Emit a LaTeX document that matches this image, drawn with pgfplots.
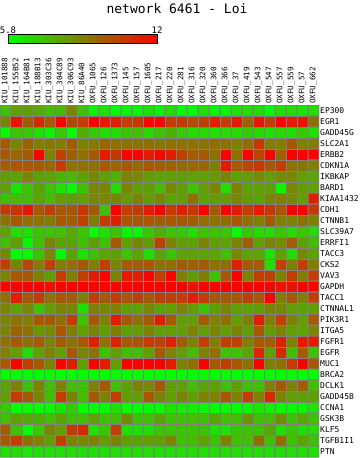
\documentclass[border=0pt]{standalone}
\usepackage{fontspec}
\setmainfont{DejaVu Sans Mono}
\usepackage{pgfplots}
\pgfplotsset{compat=1.18}
\begin{document}
\begin{tikzpicture}
\useasboundingbox (0,0) rectangle (361pt,458pt);
\begin{axis}[
  at={(0pt,1pt)}, anchor=south west,
  scale only axis, width=319pt, height=352pt,
  xmin=-0.5, xmax=28.5, ymin=-0.5, ymax=31.5, y dir=reverse,
  enlargelimits=false,
  axis line style={draw=none},
  tick style={draw=none},
  xtick={0,...,28},
  xticklabels={KIU\_101888,KIU\_155B52,KIU\_164B81,KIU\_188B13,KIU\_303C36,KIU\_304C89,KIU\_306C93,KIU\_86A40,OXFU\_1065,OXFU\_126,OXFU\_1373,OXFU\_145,OXFU\_157,OXFU\_1605,OXFU\_217,OXFU\_220,OXFU\_281,OXFU\_316,OXFU\_320,OXFU\_360,OXFU\_366,OXFU\_37,OXFU\_419,OXFU\_543,OXFU\_547,OXFU\_557,OXFU\_559,OXFU\_57,OXFU\_662},
  xticklabel pos=upper,
  xticklabel style={rotate=90, anchor=west, font=\fontsize{7.6}{8}\selectfont, inner sep=1pt},
  ytick={0,...,31},
  yticklabels={EP300,EGR1,GADD45G,SLC2A1,ERBB2,CDKN1A,IKBKAP,BARD1,KIAA1432,CDH1,CTNNB1,SLC39A7,ERRFI1,TACC3,CKS2,VAV3,GAPDH,TACC1,CTNNAL1,PIK3R1,ITGA5,FGFR1,EGFR,MUC1,BRCA2,DCLK1,GADD45B,CCNA1,GSK3B,KLF5,TGFB1I1,PTN},
  yticklabel pos=upper,
  yticklabel style={anchor=west, font=\fontsize{8}{9}\selectfont, inner sep=1pt},
  colormap={rg}{rgb255=(0,255,0) rgb255=(255,0,0)},
  point meta min=5.8, point meta max=12,
  colorbar horizontal,
  colorbar style={
    at={(0.0251,1.1733)}, anchor=south west,
    scale only axis, width=149pt, height=9pt,
    xtick={5.8,12}, xticklabels={5.8,12},
    xticklabel pos=upper,
    xtick style={draw=none},
    xticklabel style={font=\fontsize{9}{10}\selectfont, inner sep=1pt},
    axis line style={black, line width=1pt},
  },
]
\addplot[matrix plot*, mesh/cols=29, point meta=explicit, draw=gray, line width=1pt] coordinates {
(0,0)[7.3] (1,0)[8.1] (2,0)[8.1] (3,0)[7.9] (4,0)[7.3] (5,0)[7.5] (6,0)[8.8] (7,0)[7.3] (8,0)[6.0] (9,0)[6.4] (10,0)[5.9] (11,0)[6.0] (12,0)[6.0] (13,0)[6.5] (14,0)[6.0] (15,0)[6.6] (16,0)[5.9] (17,0)[5.8] (18,0)[6.6] (19,0)[6.0] (20,0)[6.0] (21,0)[6.5] (22,0)[6.5] (23,0)[6.6] (24,0)[5.8] (25,0)[6.5] (26,0)[6.6] (27,0)[6.4] (28,0)[6.6]

(0,1)[8.8] (1,1)[11.5] (2,1)[9.8] (3,1)[11.0] (4,1)[9.8] (5,1)[12.0] (6,1)[10.3] (7,1)[10.5] (8,1)[12.0] (9,1)[11.3] (10,1)[11.2] (11,1)[10.5] (12,1)[10.6] (13,1)[11.9] (14,1)[11.9] (15,1)[10.5] (16,1)[10.6] (17,1)[10.1] (18,1)[10.4] (19,1)[11.2] (20,1)[10.5] (21,1)[11.3] (22,1)[9.6] (23,1)[11.4] (24,1)[10.4] (25,1)[12.0] (26,1)[11.3] (27,1)[11.5] (28,1)[9.3]

(0,2)[5.9] (1,2)[7.2] (2,2)[7.1] (3,2)[6.6] (4,2)[6.0] (5,2)[7.1] (6,2)[5.8] (7,2)[7.8] (8,2)[7.0] (9,2)[6.6] (10,2)[6.6] (11,2)[7.2] (12,2)[7.3] (13,2)[6.7] (14,2)[7.2] (15,2)[7.7] (16,2)[7.0] (17,2)[6.6] (18,2)[6.6] (19,2)[6.5] (20,2)[6.6] (21,2)[6.6] (22,2)[7.0] (23,2)[6.7] (24,2)[6.5] (25,2)[6.7] (26,2)[6.6] (27,2)[7.1] (28,2)[6.5]

(0,3)[9.8] (1,3)[8.8] (2,3)[9.6] (3,3)[8.9] (4,3)[9.0] (5,3)[8.9] (6,3)[9.7] (7,3)[8.8] (8,3)[9.0] (9,3)[9.5] (10,3)[9.2] (11,3)[9.3] (12,3)[9.2] (13,3)[9.3] (14,3)[9.0] (15,3)[9.2] (16,3)[9.2] (17,3)[9.2] (18,3)[9.1] (19,3)[9.3] (20,3)[9.2] (21,3)[8.9] (22,3)[9.3] (23,3)[10.6] (24,3)[8.9] (25,3)[8.9] (26,3)[9.8] (27,3)[8.9] (28,3)[8.9]

(0,4)[9.8] (1,4)[9.5] (2,4)[9.8] (3,4)[12.0] (4,4)[8.8] (5,4)[10.4] (6,4)[9.7] (7,4)[9.2] (8,4)[9.8] (9,4)[11.3] (10,4)[10.6] (11,4)[12.0] (12,4)[12.0] (13,4)[11.3] (14,4)[11.9] (15,4)[11.2] (16,4)[10.4] (17,4)[9.7] (18,4)[9.8] (19,4)[9.2] (20,4)[12.0] (21,4)[9.2] (22,4)[12.0] (23,4)[10.3] (24,4)[12.0] (25,4)[9.6] (26,4)[12.0] (27,4)[12.0] (28,4)[12.0]

(0,5)[9.8] (1,5)[9.9] (2,5)[9.8] (3,5)[9.8] (4,5)[9.5] (5,5)[10.5] (6,5)[9.2] (7,5)[9.2] (8,5)[9.3] (9,5)[9.8] (10,5)[9.5] (11,5)[9.8] (12,5)[9.5] (13,5)[9.8] (14,5)[9.7] (15,5)[9.6] (16,5)[9.5] (17,5)[9.5] (18,5)[9.5] (19,5)[8.9] (20,5)[11.3] (21,5)[9.8] (22,5)[10.3] (23,5)[10.6] (24,5)[9.8] (25,5)[10.4] (26,5)[9.2] (27,5)[9.1] (28,5)[8.9]

(0,6)[8.2] (1,6)[8.0] (2,6)[8.8] (3,6)[8.1] (4,6)[8.0] (5,6)[7.6] (6,6)[7.5] (7,6)[8.1] (8,6)[8.7] (9,6)[8.1] (10,6)[7.6] (11,6)[8.8] (12,6)[8.7] (13,6)[8.2] (14,6)[8.0] (15,6)[8.1] (16,6)[8.1] (17,6)[8.0] (18,6)[8.0] (19,6)[8.2] (20,6)[8.7] (21,6)[8.1] (22,6)[8.2] (23,6)[8.6] (24,6)[8.1] (25,6)[8.6] (26,6)[8.7] (27,6)[8.1] (28,6)[8.0]

(0,7)[8.1] (1,7)[6.4] (2,7)[7.2] (3,7)[8.0] (4,7)[7.2] (5,7)[6.5] (6,7)[5.9] (7,7)[7.3] (8,7)[8.7] (9,7)[8.8] (10,7)[6.6] (11,7)[8.8] (12,7)[8.1] (13,7)[8.2] (14,7)[7.4] (15,7)[8.6] (16,7)[8.1] (17,7)[7.2] (18,7)[8.1] (19,7)[8.8] (20,7)[6.6] (21,7)[8.8] (22,7)[8.0] (23,7)[8.1] (24,7)[8.1] (25,7)[6.0] (26,7)[8.7] (27,7)[8.2] (28,7)[8.0]

(0,8)[7.3] (1,8)[7.4] (2,8)[7.3] (3,8)[8.0] (4,8)[7.4] (5,8)[8.1] (6,8)[8.2] (7,8)[8.1] (8,8)[8.7] (9,8)[8.7] (10,8)[8.8] (11,8)[8.2] (12,8)[8.8] (13,8)[8.2] (14,8)[8.7] (15,8)[8.0] (16,8)[8.1] (17,8)[9.2] (18,8)[8.0] (19,8)[8.2] (20,8)[8.1] (21,8)[8.7] (22,8)[8.2] (23,8)[8.0] (24,8)[8.7] (25,8)[8.8] (26,8)[8.7] (27,8)[8.1] (28,8)[11.2]

(0,9)[10.6] (1,9)[10.7] (2,9)[11.4] (3,9)[9.8] (4,9)[10.5] (5,9)[9.8] (6,9)[9.9] (7,9)[10.6] (8,9)[9.8] (9,9)[7.3] (10,9)[12.0] (11,9)[10.5] (12,9)[10.6] (13,9)[11.3] (14,9)[12.0] (15,9)[10.5] (16,9)[11.2] (17,9)[10.6] (18,9)[12.0] (19,9)[9.8] (20,9)[12.0] (21,9)[11.3] (22,9)[10.5] (23,9)[11.3] (24,9)[10.6] (25,9)[9.9] (26,9)[12.0] (27,9)[12.0] (28,9)[10.6]

(0,10)[9.2] (1,10)[9.8] (2,10)[9.3] (3,10)[9.2] (4,10)[8.9] (5,10)[9.8] (6,10)[9.7] (7,10)[10.4] (8,10)[8.9] (9,10)[10.5] (10,10)[11.2] (11,10)[9.9] (12,10)[9.8] (13,10)[9.9] (14,10)[9.7] (15,10)[9.8] (16,10)[9.8] (17,10)[9.7] (18,10)[9.3] (19,10)[9.2] (20,10)[9.3] (21,10)[9.8] (22,10)[9.2] (23,10)[8.9] (24,10)[9.8] (25,10)[8.9] (26,10)[8.8] (27,10)[9.2] (28,10)[8.9]

(0,11)[8.0] (1,11)[6.6] (2,11)[6.5] (3,11)[7.2] (4,11)[7.2] (5,11)[7.3] (6,11)[7.9] (7,11)[7.2] (8,11)[5.9] (9,11)[6.5] (10,11)[7.2] (11,11)[6.0] (12,11)[6.0] (13,11)[7.2] (14,11)[7.8] (15,11)[7.2] (16,11)[7.1] (17,11)[6.6] (18,11)[7.2] (19,11)[7.2] (20,11)[7.1] (21,11)[5.9] (22,11)[7.1] (23,11)[6.7] (24,11)[6.6] (25,11)[7.2] (26,11)[6.7] (27,11)[7.2] (28,11)[6.6]

(0,12)[7.3] (1,12)[8.1] (2,12)[6.0] (3,12)[7.3] (4,12)[8.8] (5,12)[8.1] (6,12)[8.0] (7,12)[7.3] (8,12)[8.1] (9,12)[7.3] (10,12)[9.8] (11,12)[8.1] (12,12)[8.7] (13,12)[8.2] (14,12)[10.4] (15,12)[8.8] (16,12)[8.1] (17,12)[8.0] (18,12)[8.8] (19,12)[8.1] (20,12)[8.0] (21,12)[8.8] (22,12)[9.7] (23,12)[8.1] (24,12)[8.8] (25,12)[8.6] (26,12)[9.7] (27,12)[8.1] (28,12)[7.4]

(0,13)[8.7] (1,13)[5.9] (2,13)[5.9] (3,13)[7.3] (4,13)[8.7] (5,13)[6.0] (6,13)[8.0] (7,13)[6.5] (8,13)[7.3] (9,13)[8.0] (10,13)[8.1] (11,13)[7.2] (12,13)[8.0] (13,13)[6.6] (14,13)[8.0] (15,13)[7.2] (16,13)[8.0] (17,13)[8.1] (18,13)[8.0] (19,13)[8.0] (20,13)[7.3] (21,13)[8.7] (22,13)[8.0] (23,13)[8.0] (24,13)[6.5] (25,13)[8.1] (26,13)[6.6] (27,13)[8.7] (28,13)[8.0]

(0,14)[10.5] (1,14)[8.8] (2,14)[10.3] (3,14)[8.9] (4,14)[10.4] (5,14)[8.9] (6,14)[9.2] (7,14)[9.8] (8,14)[8.9] (9,14)[10.5] (10,14)[8.8] (11,14)[9.8] (12,14)[9.7] (13,14)[9.8] (14,14)[9.2] (15,14)[9.3] (16,14)[9.8] (17,14)[9.7] (18,14)[9.8] (19,14)[9.2] (20,14)[9.3] (21,14)[11.2] (22,14)[9.8] (23,14)[9.7] (24,14)[6.6] (25,14)[10.4] (26,14)[8.9] (27,14)[10.5] (28,14)[8.9]

(0,15)[8.8] (1,15)[9.8] (2,15)[9.8] (3,15)[8.9] (4,15)[8.1] (5,15)[10.4] (6,15)[8.9] (7,15)[10.5] (8,15)[11.3] (9,15)[12.0] (10,15)[8.8] (11,15)[11.3] (12,15)[11.2] (13,15)[11.9] (14,15)[10.5] (15,15)[11.9] (16,15)[8.9] (17,15)[8.2] (18,15)[8.9] (19,15)[7.3] (20,15)[9.8] (21,15)[12.0] (22,15)[8.8] (23,15)[10.5] (24,15)[10.4] (25,15)[8.8] (26,15)[10.5] (27,15)[8.9] (28,15)[10.5]

(0,16)[12.0] (1,16)[12.0] (2,16)[12.0] (3,16)[12.0] (4,16)[11.6] (5,16)[12.0] (6,16)[12.0] (7,16)[12.0] (8,16)[12.0] (9,16)[12.0] (10,16)[12.0] (11,16)[12.0] (12,16)[12.0] (13,16)[12.0] (14,16)[12.0] (15,16)[12.0] (16,16)[12.0] (17,16)[11.5] (18,16)[12.0] (19,16)[12.0] (20,16)[12.0] (21,16)[12.0] (22,16)[12.0] (23,16)[12.0] (24,16)[12.0] (25,16)[11.5] (26,16)[11.6] (27,16)[12.0] (28,16)[12.0]

(0,17)[9.2] (1,17)[11.2] (2,17)[9.8] (3,17)[10.5] (4,17)[9.2] (5,17)[9.8] (6,17)[9.7] (7,17)[8.9] (8,17)[10.5] (9,17)[9.8] (10,17)[10.5] (11,17)[9.9] (12,17)[10.4] (13,17)[9.8] (14,17)[10.5] (15,17)[10.4] (16,17)[10.5] (17,17)[11.2] (18,17)[10.5] (19,17)[9.8] (20,17)[9.8] (21,17)[9.8] (22,17)[10.4] (23,17)[9.8] (24,17)[12.0] (25,17)[8.9] (26,17)[9.8] (27,17)[8.9] (28,17)[10.5]

(0,18)[8.8] (1,18)[8.0] (2,18)[8.7] (3,18)[7.3] (4,18)[8.1] (5,18)[8.8] (6,18)[8.7] (7,18)[6.6] (8,18)[8.8] (9,18)[8.7] (10,18)[8.8] (11,18)[8.1] (12,18)[8.0] (13,18)[8.7] (14,18)[8.0] (15,18)[8.1] (16,18)[8.8] (17,18)[8.1] (18,18)[7.3] (19,18)[8.1] (20,18)[8.7] (21,18)[8.1] (22,18)[8.0] (23,18)[8.2] (24,18)[8.8] (25,18)[8.7] (26,18)[8.1] (27,18)[8.0] (28,18)[8.1]

(0,19)[8.8] (1,19)[9.2] (2,19)[8.9] (3,19)[9.8] (4,19)[9.8] (5,19)[9.3] (6,19)[10.5] (7,19)[7.3] (8,19)[9.8] (9,19)[8.8] (10,19)[11.3] (11,19)[9.8] (12,19)[9.2] (13,19)[9.8] (14,19)[11.3] (15,19)[9.8] (16,19)[8.1] (17,19)[8.1] (18,19)[9.8] (19,19)[8.8] (20,19)[9.2] (21,19)[8.1] (22,19)[8.8] (23,19)[11.2] (24,19)[8.9] (25,19)[10.4] (26,19)[8.8] (27,19)[8.1] (28,19)[9.8]

(0,20)[8.8] (1,20)[9.6] (2,20)[9.2] (3,20)[8.3] (4,20)[8.6] (5,20)[9.9] (6,20)[8.9] (7,20)[8.1] (8,20)[8.8] (9,20)[8.2] (10,20)[8.9] (11,20)[8.1] (12,20)[8.2] (13,20)[8.8] (14,20)[8.1] (15,20)[8.1] (16,20)[8.1] (17,20)[8.8] (18,20)[8.1] (19,20)[8.8] (20,20)[8.1] (21,20)[8.8] (22,20)[8.1] (23,20)[9.8] (24,20)[8.2] (25,20)[8.8] (26,20)[8.1] (27,20)[8.0] (28,20)[8.8]

(0,21)[9.2] (1,21)[9.8] (2,21)[9.3] (3,21)[9.8] (4,21)[8.8] (5,21)[9.8] (6,21)[9.2] (7,21)[9.8] (8,21)[11.2] (9,21)[9.2] (10,21)[11.2] (11,21)[9.8] (12,21)[9.9] (13,21)[10.5] (14,21)[10.4] (15,21)[11.2] (16,21)[9.8] (17,21)[8.8] (18,21)[10.4] (19,21)[8.9] (20,21)[10.5] (21,21)[10.4] (22,21)[8.9] (23,21)[9.8] (24,21)[9.8] (25,21)[11.2] (26,21)[8.8] (27,21)[11.3] (28,21)[11.3]

(0,22)[8.8] (1,22)[8.1] (2,22)[6.6] (3,22)[8.0] (4,22)[8.8] (5,22)[8.1] (6,22)[9.8] (7,22)[8.8] (8,22)[9.2] (9,22)[7.3] (10,22)[8.1] (11,22)[7.3] (12,22)[7.3] (13,22)[8.1] (14,22)[9.8] (15,22)[8.8] (16,22)[8.1] (17,22)[7.4] (18,22)[8.8] (19,22)[9.2] (20,22)[7.3] (21,22)[7.3] (22,22)[8.0] (23,22)[11.0] (24,22)[8.1] (25,22)[11.0] (26,22)[7.3] (27,22)[9.8] (28,22)[7.3]

(0,23)[9.8] (1,23)[12.0] (2,23)[10.5] (3,23)[9.8] (4,23)[8.8] (5,23)[12.0] (6,23)[11.3] (7,23)[8.1] (8,23)[12.0] (9,23)[11.3] (10,23)[8.1] (11,23)[12.0] (12,23)[12.0] (13,23)[12.0] (14,23)[12.0] (15,23)[11.3] (16,23)[8.8] (17,23)[9.2] (18,23)[12.0] (19,23)[9.8] (20,23)[10.5] (21,23)[9.9] (22,23)[9.2] (23,23)[12.0] (24,23)[8.9] (25,23)[9.2] (26,23)[10.5] (27,23)[12.0] (28,23)[9.8]

(0,24)[5.8] (1,24)[5.8] (2,24)[5.8] (3,24)[5.8] (4,24)[5.8] (5,24)[5.8] (6,24)[5.8] (7,24)[5.8] (8,24)[5.8] (9,24)[5.8] (10,24)[5.8] (11,24)[5.8] (12,24)[5.8] (13,24)[5.8] (14,24)[5.8] (15,24)[5.8] (16,24)[5.8] (17,24)[5.8] (18,24)[5.8] (19,24)[5.8] (20,24)[5.8] (21,24)[5.8] (22,24)[5.8] (23,24)[5.8] (24,24)[5.8] (25,24)[5.8] (26,24)[5.8] (27,24)[5.8] (28,24)[5.8]

(0,25)[8.0] (1,25)[8.8] (2,25)[7.3] (3,25)[8.8] (4,25)[7.3] (5,25)[8.8] (6,25)[7.3] (7,25)[7.3] (8,25)[8.8] (9,25)[9.8] (10,25)[7.3] (11,25)[8.0] (12,25)[8.8] (13,25)[8.7] (14,25)[9.8] (15,25)[8.1] (16,25)[8.1] (17,25)[7.4] (18,25)[8.0] (19,25)[8.1] (20,25)[7.3] (21,25)[8.1] (22,25)[7.3] (23,25)[7.3] (24,25)[8.8] (25,25)[9.8] (26,25)[8.8] (27,25)[9.7] (28,25)[7.4]

(0,26)[8.1] (1,26)[10.5] (2,26)[9.8] (3,26)[8.8] (4,26)[7.3] (5,26)[10.5] (6,26)[8.8] (7,26)[7.4] (8,26)[9.8] (9,26)[8.8] (10,26)[10.5] (11,26)[8.1] (12,26)[8.1] (13,26)[9.8] (14,26)[8.8] (15,26)[8.1] (16,26)[8.8] (17,26)[8.1] (18,26)[8.8] (19,26)[8.8] (20,26)[9.8] (21,26)[8.8] (22,26)[10.5] (23,26)[8.8] (24,26)[11.0] (25,26)[8.8] (26,26)[8.1] (27,26)[8.0] (28,26)[8.1]

(0,27)[7.0] (1,27)[5.8] (2,27)[5.8] (3,27)[5.9] (4,27)[5.9] (5,27)[6.4] (6,27)[7.0] (7,27)[5.8] (8,27)[5.8] (9,27)[5.9] (10,27)[6.5] (11,27)[5.8] (12,27)[5.8] (13,27)[5.9] (14,27)[5.9] (15,27)[6.4] (16,27)[6.3] (17,27)[6.2] (18,27)[5.9] (19,27)[5.9] (20,27)[5.9] (21,27)[5.9] (22,27)[6.0] (23,27)[6.4] (24,27)[6.2] (25,27)[5.9] (26,27)[5.9] (27,27)[6.0] (28,27)[6.4]

(0,28)[7.3] (1,28)[8.0] (2,28)[7.9] (3,28)[7.8] (4,28)[7.3] (5,28)[8.0] (6,28)[7.4] (7,28)[7.3] (8,28)[8.0] (9,28)[7.3] (10,28)[7.3] (11,28)[8.6] (12,28)[7.3] (13,28)[7.3] (14,28)[8.0] (15,28)[7.3] (16,28)[7.3] (17,28)[7.4] (18,28)[7.3] (19,28)[8.0] (20,28)[7.3] (21,28)[7.4] (22,28)[8.4] (23,28)[7.3] (24,28)[7.4] (25,28)[8.5] (26,28)[7.3] (27,28)[8.0] (28,28)[7.3]

(0,29)[9.8] (1,29)[7.3] (2,29)[5.8] (3,29)[7.2] (4,29)[8.8] (5,29)[8.1] (6,29)[10.6] (7,29)[11.0] (8,29)[6.5] (9,29)[7.2] (10,29)[10.4] (11,29)[6.6] (12,29)[6.6] (13,29)[6.7] (14,29)[7.2] (15,29)[7.2] (16,29)[7.2] (17,29)[7.2] (18,29)[7.3] (19,29)[6.6] (20,29)[6.5] (21,29)[7.2] (22,29)[7.2] (23,29)[7.3] (24,29)[8.0] (25,29)[6.6] (26,29)[7.2] (27,29)[6.6] (28,29)[6.6]

(0,30)[9.8] (1,30)[10.5] (2,30)[9.2] (3,30)[8.8] (4,30)[8.1] (5,30)[10.5] (6,30)[8.8] (7,30)[8.7] (8,30)[8.8] (9,30)[8.1] (10,30)[8.8] (11,30)[8.1] (12,30)[8.0] (13,30)[8.1] (14,30)[8.0] (15,30)[8.7] (16,30)[7.3] (17,30)[7.4] (18,30)[8.0] (19,30)[7.3] (20,30)[8.8] (21,30)[7.3] (22,30)[7.3] (23,30)[9.3] (24,30)[7.3] (25,30)[9.3] (26,30)[7.3] (27,30)[8.0] (28,30)[7.3]

(0,31)[6.5] (1,31)[6.5] (2,31)[6.2] (3,31)[6.5] (4,31)[6.4] (5,31)[6.5] (6,31)[6.5] (7,31)[6.5] (8,31)[6.4] (9,31)[6.5] (10,31)[6.5] (11,31)[6.5] (12,31)[6.5] (13,31)[6.5] (14,31)[6.5] (15,31)[6.5] (16,31)[6.5] (17,31)[6.5] (18,31)[6.5] (19,31)[6.5] (20,31)[6.5] (21,31)[6.5] (22,31)[6.5] (23,31)[6.5] (24,31)[6.5] (25,31)[6.5] (26,31)[6.5] (27,31)[6.5] (28,31)[6.5]
};
\end{axis}
\node[font=\fontsize{13}{15}\selectfont] at (177pt,449pt) {network 6461 - Loi};
\end{tikzpicture}
\end{document}
